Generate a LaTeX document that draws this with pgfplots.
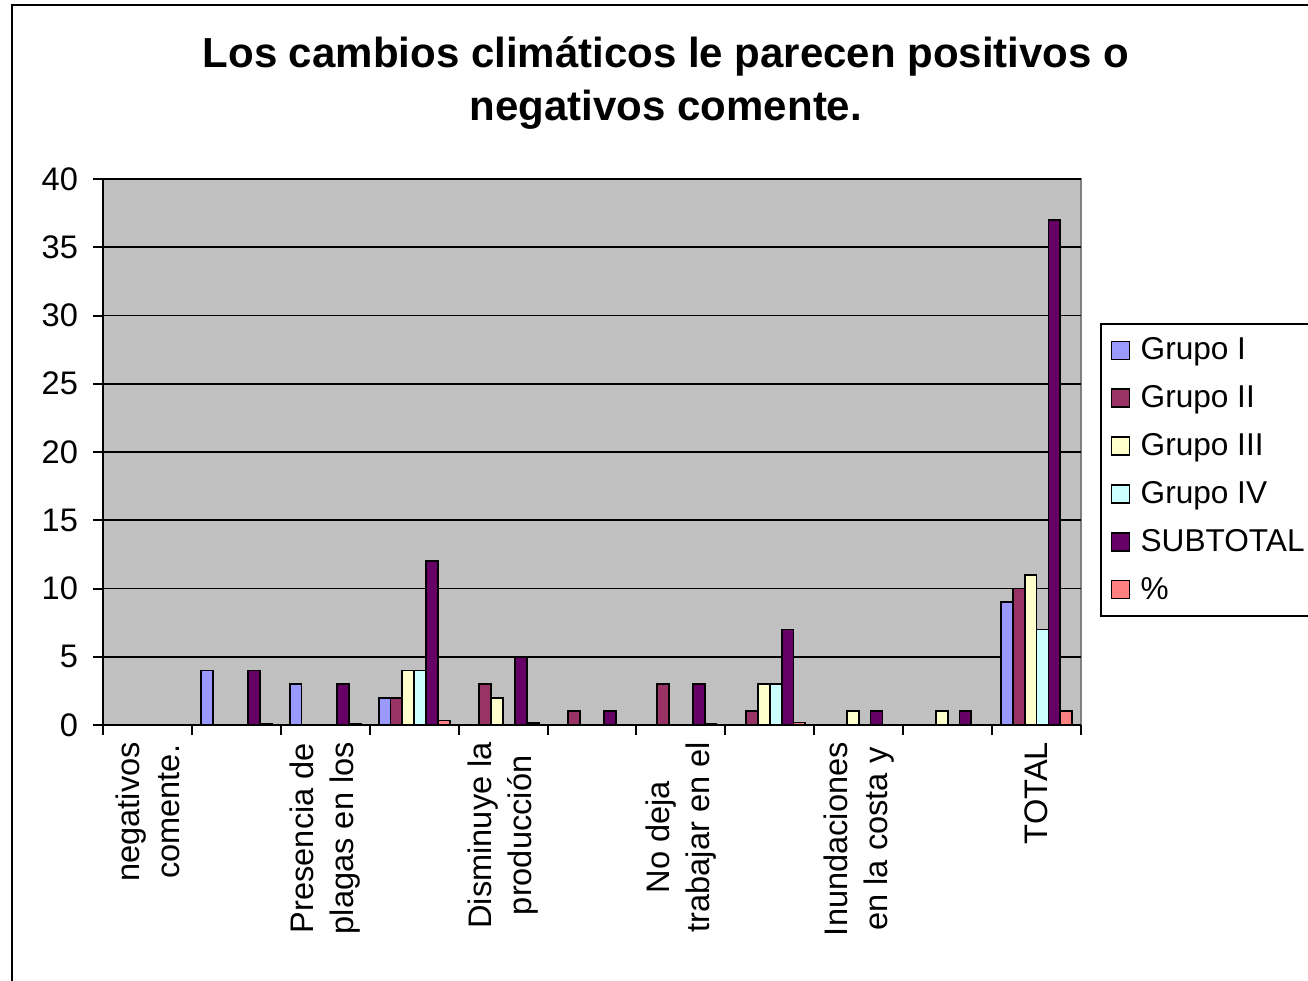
\documentclass[border=0pt]{standalone}
\usepackage{pgfplots}
\usepackage{pgfplotstable}
\pgfplotsset{compat=1.18}
\usepackage{fontspec}
\setmainfont{Liberation Sans}
\definecolor{gI}{HTML}{9999FF}
\definecolor{gII}{HTML}{993366}
\definecolor{gIII}{HTML}{FFFFCC}
\definecolor{gIV}{HTML}{CCFFFF}
\definecolor{gSUB}{HTML}{660066}
\definecolor{gPCT}{HTML}{FF8080}
\definecolor{plotgray}{HTML}{C0C0C0}
\pgfplotstableread{
cat GI GII GIII GIV SUB PCT
0 0 0 0 0 0 0
1 4 0 0 0 4 0.108
2 3 0 0 0 3 0.081
3 2 2 4 4 12 0.324
4 0 3 2 0 5 0.135
5 0 1 0 0 1 0.027
6 0 3 0 0 3 0.081
7 0 1 3 3 7 0.189
8 0 0 1 0 1 0.027
9 0 0 1 0 1 0.027
10 9 10 11 7 37 1
}\datatable
\begin{document}
\begin{tikzpicture}
\path[use as bounding box] (-51.5pt,-128pt) rectangle (602.5pt,362.5pt);
\draw[line width=1pt] (-45.5pt,-140pt) -- (-45.5pt,360pt) -- (620pt,360pt);
\node[anchor=base, font=\bfseries\fontsize{21}{26.5}\selectfont, inner sep=0pt] at (281.5pt,328.5pt) {Los cambios climáticos le parecen positivos o};
\node[anchor=base, font=\bfseries\fontsize{21}{26.5}\selectfont, inner sep=0pt] at (281.5pt,302pt) {negativos comente.};
\begin{axis}[
  at={(0pt,0pt)}, anchor=south west, scale only axis,
  width=489pt, height=273pt,
  xmin=-0.5, xmax=10.5, ymin=0, ymax=40,
  axis lines=left, axis line style={-, black, line width=1pt},
  axis background/.style={fill=plotgray, draw=gray, line width=1pt},
  ytick={0,5,...,40},
  ymajorgrids, grid style={black, line width=0.9pt},
  xtick={-0.5,0.5,...,10.5}, xticklabels={},
  extra x ticks={0,2,4,6,8,10},
  extra x tick labels={negativos\\comente., Presencia de\\plagas en los, Disminuye la\\producción, No deja\\trabajar en el, Inundaciones\\en la costa y, TOTAL},
  extra x tick style={major tick length=0pt, grid=none,
     tick label style={yshift=-5pt, rotate=90, anchor=east, align=center, font=\fontsize{16.3}{20}\selectfont}},
  tick align=outside, major tick length=5pt,
  tick style={black, line width=1pt},
  tick label style={font=\fontsize{16.3}{20}\selectfont},
  yticklabel style={xshift=-4pt},
  /pgf/number format/assume math mode=true,
  ybar=0pt, bar width=0.1333,
  legend style={at={(axis description cs:1.0194,0.7363)}, anchor=north west,
     draw=black, line width=0.9pt, fill=white, font=\fontsize{15.8}{19}\selectfont,
     row sep=7.4pt, inner xsep=5pt, inner ysep=5pt},
  legend cell align=left,
  legend image code/.code={\draw[#1, line width=0.8pt] (0pt,-4.5pt) rectangle (9pt,4.5pt); \path[draw=none, fill=none] (0pt,0pt) -- (12.5pt,0pt);},
]
\addplot[fill=gI, draw=black, line width=0.9pt] table[x=cat,y=GI] {\datatable};
\addplot[fill=gII, draw=black, line width=0.9pt] table[x=cat,y=GII] {\datatable};
\addplot[fill=gIII, draw=black, line width=0.9pt] table[x=cat,y=GIII] {\datatable};
\addplot[fill=gIV, draw=black, line width=0.9pt] table[x=cat,y=GIV] {\datatable};
\addplot[fill=gSUB, draw=black, line width=0.9pt] table[x=cat,y=SUB] {\datatable};
\addplot[fill=gPCT, draw=black, line width=0.9pt] table[x=cat,y=PCT] {\datatable};
\legend{Grupo I, Grupo II, Grupo III, Grupo IV, SUBTOTAL, \%}
\end{axis}
\end{tikzpicture}
\end{document}
